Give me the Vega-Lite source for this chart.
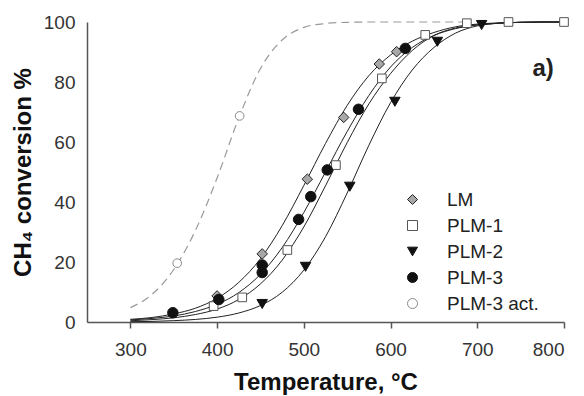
{
  "$schema": "https://vega.github.io/schema/vega-lite/v6.json",
  "width": 477,
  "height": 300,
  "autosize": {"type": "none"},
  "padding": {"left": 87, "top": 22, "right": 20, "bottom": 74},
  "background": "white",
  "datasets": {
    "pts": [
      {"s": "LM", "t": 400, "v": 8.7},
      {"s": "LM", "t": 452, "v": 22.7},
      {"s": "LM", "t": 504, "v": 47.6},
      {"s": "LM", "t": 546, "v": 68.2},
      {"s": "LM", "t": 587, "v": 86},
      {"s": "LM", "t": 607, "v": 90.1},
      {"s": "PLM-1", "t": 396, "v": 5.3},
      {"s": "PLM-1", "t": 429, "v": 8.2},
      {"s": "PLM-1", "t": 481, "v": 24},
      {"s": "PLM-1", "t": 537, "v": 52.3},
      {"s": "PLM-1", "t": 590, "v": 81.2},
      {"s": "PLM-1", "t": 640, "v": 95.7},
      {"s": "PLM-1", "t": 688, "v": 99.6},
      {"s": "PLM-1", "t": 736, "v": 100},
      {"s": "PLM-1", "t": 800, "v": 100},
      {"s": "PLM-2", "t": 452, "v": 6},
      {"s": "PLM-2", "t": 502, "v": 18.4},
      {"s": "PLM-2", "t": 553, "v": 45.1},
      {"s": "PLM-2", "t": 605, "v": 73.4},
      {"s": "PLM-2", "t": 654, "v": 93.4},
      {"s": "PLM-2", "t": 705, "v": 99},
      {"s": "PLM-3", "t": 349, "v": 3.1},
      {"s": "PLM-3", "t": 402, "v": 7.5},
      {"s": "PLM-3", "t": 452, "v": 16.5},
      {"s": "PLM-3", "t": 452, "v": 19},
      {"s": "PLM-3", "t": 494, "v": 34.2},
      {"s": "PLM-3", "t": 508, "v": 41.8},
      {"s": "PLM-3", "t": 527, "v": 50.7},
      {"s": "PLM-3", "t": 563, "v": 70.9},
      {"s": "PLM-3", "t": 617, "v": 91.2},
      {"s": "PLM-3 act.", "t": 354, "v": 19.6},
      {"s": "PLM-3 act.", "t": 426, "v": 68.7}
    ],
    "fits": [
      {"c": "LM", "t": 300, "v": 0.9}, {"c": "LM", "t": 325, "v": 1.5}, {"c": "LM", "t": 350, "v": 2.7}, {"c": "LM", "t": 375, "v": 4.6}, {"c": "LM", "t": 400, "v": 7.9}, {"c": "LM", "t": 425, "v": 13.2}, {"c": "LM", "t": 450, "v": 21.1}, {"c": "LM", "t": 475, "v": 32.1}, {"c": "LM", "t": 500, "v": 45.5}, {"c": "LM", "t": 525, "v": 59.5}, {"c": "LM", "t": 550, "v": 72.2}, {"c": "LM", "t": 575, "v": 82.1}, {"c": "LM", "t": 600, "v": 89.0}, {"c": "LM", "t": 625, "v": 93.6}, {"c": "LM", "t": 650, "v": 96.5}, {"c": "LM", "t": 675, "v": 98.4}, {"c": "LM", "t": 700, "v": 99.3}, {"c": "LM", "t": 725, "v": 99.7}, {"c": "LM", "t": 750, "v": 99.9}, {"c": "LM", "t": 775, "v": 100}, {"c": "LM", "t": 800, "v": 100},
      {"c": "PLM-1", "t": 300, "v": 0.4}, {"c": "PLM-1", "t": 325, "v": 0.8}, {"c": "PLM-1", "t": 350, "v": 1.4}, {"c": "PLM-1", "t": 375, "v": 2.5}, {"c": "PLM-1", "t": 400, "v": 4.3}, {"c": "PLM-1", "t": 425, "v": 7.5}, {"c": "PLM-1", "t": 450, "v": 12.7}, {"c": "PLM-1", "t": 475, "v": 20.6}, {"c": "PLM-1", "t": 500, "v": 31.7}, {"c": "PLM-1", "t": 525, "v": 45.4}, {"c": "PLM-1", "t": 550, "v": 59.8}, {"c": "PLM-1", "t": 575, "v": 72.7}, {"c": "PLM-1", "t": 600, "v": 82.8}, {"c": "PLM-1", "t": 625, "v": 90.5}, {"c": "PLM-1", "t": 650, "v": 95.5}, {"c": "PLM-1", "t": 675, "v": 98.0}, {"c": "PLM-1", "t": 700, "v": 99.1}, {"c": "PLM-1", "t": 725, "v": 99.6}, {"c": "PLM-1", "t": 750, "v": 99.9}, {"c": "PLM-1", "t": 775, "v": 100}, {"c": "PLM-1", "t": 800, "v": 100},
      {"c": "PLM-2", "t": 300, "v": 0.1}, {"c": "PLM-2", "t": 325, "v": 0.2}, {"c": "PLM-2", "t": 350, "v": 0.45}, {"c": "PLM-2", "t": 375, "v": 0.85}, {"c": "PLM-2", "t": 400, "v": 1.6}, {"c": "PLM-2", "t": 425, "v": 3.0}, {"c": "PLM-2", "t": 450, "v": 5.5}, {"c": "PLM-2", "t": 475, "v": 9.9}, {"c": "PLM-2", "t": 500, "v": 17.3}, {"c": "PLM-2", "t": 525, "v": 28.4}, {"c": "PLM-2", "t": 550, "v": 43.0}, {"c": "PLM-2", "t": 575, "v": 58.9}, {"c": "PLM-2", "t": 600, "v": 73.1}, {"c": "PLM-2", "t": 625, "v": 84.0}, {"c": "PLM-2", "t": 650, "v": 91.5}, {"c": "PLM-2", "t": 675, "v": 96.3}, {"c": "PLM-2", "t": 700, "v": 98.7}, {"c": "PLM-2", "t": 725, "v": 99.6}, {"c": "PLM-2", "t": 750, "v": 99.9}, {"c": "PLM-2", "t": 775, "v": 100}, {"c": "PLM-2", "t": 800, "v": 100},
      {"c": "PLM-3", "t": 300, "v": 0.7}, {"c": "PLM-3", "t": 325, "v": 1.2}, {"c": "PLM-3", "t": 350, "v": 2.0}, {"c": "PLM-3", "t": 375, "v": 3.5}, {"c": "PLM-3", "t": 400, "v": 5.9}, {"c": "PLM-3", "t": 425, "v": 9.8}, {"c": "PLM-3", "t": 450, "v": 15.9}, {"c": "PLM-3", "t": 475, "v": 24.8}, {"c": "PLM-3", "t": 500, "v": 36.5}, {"c": "PLM-3", "t": 525, "v": 50.0}, {"c": "PLM-3", "t": 550, "v": 63.5}, {"c": "PLM-3", "t": 575, "v": 75.5}, {"c": "PLM-3", "t": 600, "v": 85.0}, {"c": "PLM-3", "t": 625, "v": 91.5}, {"c": "PLM-3", "t": 650, "v": 95.5}, {"c": "PLM-3", "t": 675, "v": 97.8}, {"c": "PLM-3", "t": 700, "v": 99.0}, {"c": "PLM-3", "t": 725, "v": 99.6}, {"c": "PLM-3", "t": 750, "v": 99.9}, {"c": "PLM-3", "t": 775, "v": 100}, {"c": "PLM-3", "t": 800, "v": 100}
    ],
    "actfit": [
      {"t": 300, "v": 4.8}, {"t": 325, "v": 9.2}, {"t": 350, "v": 17.5}, {"t": 375, "v": 30.5}, {"t": 400, "v": 48}, {"t": 425, "v": 68}, {"t": 450, "v": 84.5}, {"t": 475, "v": 94}, {"t": 500, "v": 98.2}, {"t": 525, "v": 99.5}, {"t": 550, "v": 99.9}, {"t": 575, "v": 100}, {"t": 600, "v": 100}, {"t": 650, "v": 100}, {"t": 690, "v": 100}
    ],
    "yticks": [{"v": 20}, {"v": 40}, {"v": 60}, {"v": 80}, {"v": 100}],
    "lbl": [{"t": 776, "v": 84.5, "txt": "a)"}]
  },
  "encoding": {
    "x": {
      "field": "t", "type": "quantitative",
      "scale": {"domain": [250, 800], "nice": false, "zero": false},
      "axis": {
        "title": "Temperature, °C",
        "values": [300, 400, 500, 600, 700, 800],
        "grid": false,
        "labelFontSize": 19, "labelColor": "#333", "labelFont": "Liberation Sans",
        "domainColor": "#555", "domainWidth": 1.5, "tickColor": "#555", "tickWidth": 1.5, "tickSize": 6,
        "labelPadding": 12,
        "titleFontSize": 24, "titleFontWeight": "bold", "titleColor": "#111", "titlePadding": 11, "titleFont": "Liberation Sans"
      }
    },
    "y": {
      "field": "v", "type": "quantitative",
      "scale": {"domain": [0, 100], "nice": false},
      "axis": {
        "title": "CH₄ conversion %",
        "values": [0, 20, 40, 60, 80, 100],
        "grid": false,
        "labelFontSize": 19, "labelColor": "#333", "labelFont": "Liberation Sans",
        "domainColor": "#555", "domainWidth": 1.5, "ticks": false,
        "labelPadding": 12,
        "titleFontSize": 24, "titleFontWeight": "bold", "titleColor": "#111", "titlePadding": 8, "titleFont": "Liberation Sans"
      }
    }
  },
  "layer": [
    {
      "data": {"name": "yticks"},
      "mark": {"type": "rule", "color": "#555", "strokeWidth": 1.5},
      "encoding": {
        "x": {"datum": 250},
        "x2": {"datum": 257.5}
      }
    },
    {
      "data": {"name": "actfit"},
      "mark": {"type": "line", "color": "#9a9a9a", "strokeWidth": 1.2, "strokeDash": [8, 5], "interpolate": "monotone"},
      "encoding": {}
    },
    {
      "data": {"name": "fits"},
      "mark": {"type": "line", "color": "#222", "strokeWidth": 1, "interpolate": "monotone"},
      "encoding": {
        "detail": {"field": "c", "type": "nominal"}
      }
    },
    {
      "data": {"name": "pts"},
      "mark": {"type": "point", "filled": true, "opacity": 1, "strokeWidth": 1},
      "encoding": {
        "shape": {"field": "s", "type": "nominal", "scale": {"domain": ["LM", "PLM-1", "PLM-2", "PLM-3", "PLM-3 act."], "range": ["diamond", "square", "triangle-down", "circle", "circle"]}},
        "fill": {"field": "s", "type": "nominal", "scale": {"domain": ["LM", "PLM-1", "PLM-2", "PLM-3", "PLM-3 act."], "range": ["#a8a8a8", "#ffffff", "#111111", "#111111", "#ffffff"]}},
        "stroke": {"field": "s", "type": "nominal", "scale": {"domain": ["LM", "PLM-1", "PLM-2", "PLM-3", "PLM-3 act."], "range": ["#222222", "#555555", "#111111", "#111111", "#8a8a8a"]}},
        "size": {"condition": {"test": "datum.s === 'PLM-1' || datum.s === 'PLM-3 act.'", "value": 75}, "value": 110}
      }
    },
    {
      "data": {"name": "lbl"},
      "mark": {"type": "text", "font": "Liberation Sans", "fontWeight": "bold", "fontSize": 24, "color": "#222", "align": "center", "baseline": "middle"},
      "encoding": {
        "text": {"field": "txt"}
      }
    }
  ],
  "config": {
    "view": {"stroke": null},
    "font": "Liberation Sans",
    "legend": {
      "orient": "none", "legendX": 316, "legendY": 168, "title": null,
      "labelFontSize": 19, "labelColor": "#222", "labelFont": "Liberation Sans",
      "rowPadding": 6, "labelOffset": 25, "padding": 0, "symbolStrokeWidth": 1, "symbolSize": 100
    }
  }
}
